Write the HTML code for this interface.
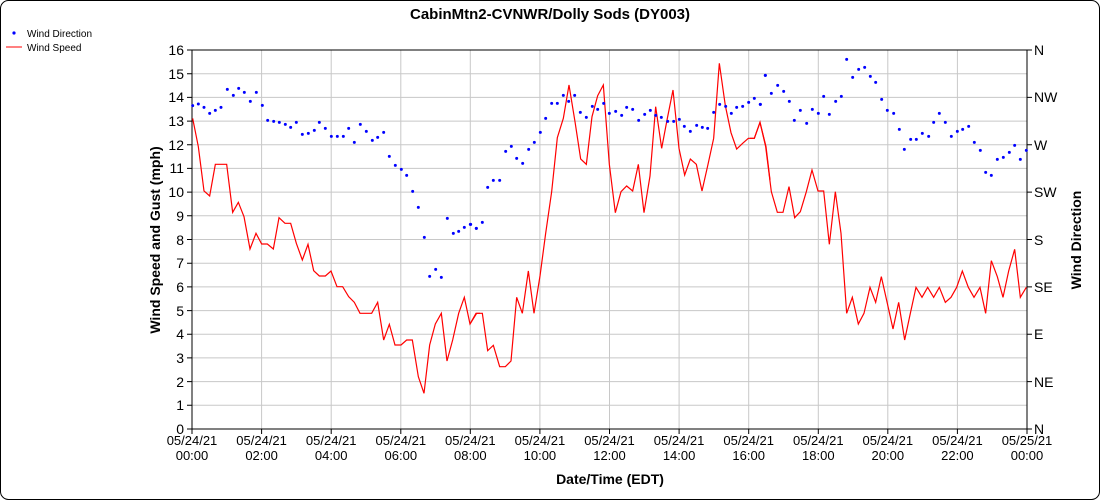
<!DOCTYPE html>
<html><head><meta charset="utf-8"><style>
html,body{margin:0;padding:0;background:#fff;}
svg{display:block;font-family:"Liberation Sans",sans-serif;}
</style></head><body>
<svg width="1100" height="500" viewBox="0 0 1100 500">
<rect x="0.5" y="0.5" width="1099" height="499" rx="8" fill="#fff" stroke="#000"/>
<text x="550" y="19" text-anchor="middle" font-size="15" font-weight="bold">CabinMtn2-CVNWR/Dolly Sods (DY003)</text>
<circle cx="14" cy="33" r="1.6" fill="#00f"/>
<text x="27" y="37" font-size="10">Wind Direction</text>
<line x1="6" y1="47" x2="22" y2="47" stroke="red"/>
<text x="27" y="51" font-size="10">Wind Speed</text>

<path fill="none" stroke="#c8c8c8" d="M192,405.3H1027M192,381.6H1027M192,357.9H1027M192,334.3H1027M192,310.6H1027M192,286.9H1027M192,263.2H1027M192,239.5H1027M192,215.8H1027M192,192.1H1027M192,168.4H1027M192,144.8H1027M192,121.1H1027M192,97.4H1027M192,73.7H1027
M261.6,50V429M331.2,50V429M400.8,50V429M470.3,50V429M539.9,50V429M609.5,50V429M679.1,50V429M748.7,50V429M818.3,50V429M887.8,50V429M957.4,50V429"/>
<rect x="192" y="50" width="835" height="379" fill="none" stroke="#000"/>
<path fill="none" stroke="#000" d="M187,429H192M187,405.3H192M187,381.6H192M187,357.9H192M187,334.3H192M187,310.6H192M187,286.9H192M187,263.2H192M187,239.5H192M187,215.8H192M187,192.1H192M187,168.4H192M187,144.8H192M187,121.1H192M187,97.4H192M187,73.7H192M187,50H192
M1027,429H1032M1027,381.6H1032M1027,334.3H1032M1027,286.9H1032M1027,239.5H1032M1027,192.1H1032M1027,144.8H1032M1027,97.4H1032M1027,50H1032
M192,429V434M261.6,429V434M331.2,429V434M400.8,429V434M470.3,429V434M539.9,429V434M609.5,429V434M679.1,429V434M748.7,429V434M818.3,429V434M887.8,429V434M957.4,429V434M1027,429V434"/>
<g font-size="14" text-anchor="end">
<text x="184" y="434">0</text><text x="184" y="410">1</text><text x="184" y="387">2</text><text x="184" y="363">3</text><text x="184" y="339">4</text><text x="184" y="316">5</text><text x="184" y="292">6</text><text x="184" y="268">7</text><text x="184" y="245">8</text><text x="184" y="221">9</text><text x="184" y="197">10</text><text x="184" y="173">11</text><text x="184" y="150">12</text><text x="184" y="126">13</text><text x="184" y="102">14</text><text x="184" y="79">15</text><text x="184" y="55">16</text>
</g>
<g font-size="14">
<text x="1034" y="434">N</text><text x="1034" y="387">NE</text><text x="1034" y="339">E</text><text x="1034" y="292">SE</text><text x="1034" y="245">S</text><text x="1034" y="197">SW</text><text x="1034" y="150">W</text><text x="1034" y="102">NW</text><text x="1034" y="55">N</text>
</g>
<g font-size="13" text-anchor="middle">
<text x="192" y="445">05/24/21</text><text x="192" y="460">00:00</text>
<text x="261.6" y="445">05/24/21</text><text x="261.6" y="460">02:00</text>
<text x="331.2" y="445">05/24/21</text><text x="331.2" y="460">04:00</text>
<text x="400.8" y="445">05/24/21</text><text x="400.8" y="460">06:00</text>
<text x="470.3" y="445">05/24/21</text><text x="470.3" y="460">08:00</text>
<text x="539.9" y="445">05/24/21</text><text x="539.9" y="460">10:00</text>
<text x="609.5" y="445">05/24/21</text><text x="609.5" y="460">12:00</text>
<text x="679.1" y="445">05/24/21</text><text x="679.1" y="460">14:00</text>
<text x="748.7" y="445">05/24/21</text><text x="748.7" y="460">16:00</text>
<text x="818.3" y="445">05/24/21</text><text x="818.3" y="460">18:00</text>
<text x="887.8" y="445">05/24/21</text><text x="887.8" y="460">20:00</text>
<text x="957.4" y="445">05/24/21</text><text x="957.4" y="460">22:00</text>
<text x="1027" y="445">05/25/21</text><text x="1027" y="460">00:00</text>
</g>

<g transform="translate(180,50) scale(0.33333)">
<polyline fill="none" stroke="red" stroke-width="1.2" vector-effect="non-scaling-stroke" points="38,205 55,290 72,423 89,438 106,343 140,343 158,487 175,457 192,500 210,597 228,550 245,582 262,582 280,597 297,503 315,520 332,520 349,580 367,630 384,583 401,662 418,678 436,678 453,663 471,710 488,710 506,740 523,757 540,790 575,790 593,757 611,870 628,823 645,885 663,885 680,870 697,870 715,980 732,1030 749,885 766,822 784,790 801,933 818,870 836,790 853,742 870,822 888,790 900,790"/>
<path fill="none" stroke="#00f" stroke-width="9" stroke-linecap="round" d="M38,167h0M55,162h0M72,172h0M89,190h0M106,181h0M123,172h0M142,118h0M160,136h0M176,115h0M193,127h0M211,154h0M229,127h0M247,166h0M263,211h0M281,214h0M298,217h0M316,223h0M332,232h0M349,217h0M367,253h0M385,250h0M403,241h0M418,217h0M436,235h0M454,259h0M472,259h0M490,259h0M506,235h0M523,277h0M541,223h0M559,244h0M577,271h0M593,262h0M611,247h0M628,319h0M646,346h0M664,358h0M680,376h0M698,424h0M715,472h0M733,562h0M749,679h0M767,658h0M784,682h0M802,505h0M820,550h0M836,544h0M853,532h0M871,523h0M889,535h0"/>
</g>
<g transform="translate(470,50) scale(0.33333)">
<polyline fill="none" stroke="red" stroke-width="1.2" vector-effect="non-scaling-stroke" points="0,822 20,790 37,790 53,902 70,886 89,950 106,950 123,933 140,742 157,790 175,663 192,790 210,678 227,550 245,425 262,263 280,205 297,105 315,215 332,327 349,343 366,200 383,137 400,105 418,343 436,488 453,425 470,408 488,423 505,343 522,488 540,378 557,170 575,295 592,205 609,120 627,295 644,375 661,327 679,343 696,423 714,343 731,265 748,40 766,167 783,248 800,297 818,280 835,265 853,265 870,217 888,290 900,390"/>
<path fill="none" stroke="#00f" stroke-width="9" stroke-linecap="round" d="M2,523h0M19,535h0M37,517h0M53,412h0M70,391h0M89,391h0M107,304h0M124,289h0M140,325h0M158,340h0M176,298h0M193,277h0M211,247h0M227,205h0M245,160h0M262,160h0M280,136h0M296,154h0M314,136h0M331,187h0M349,202h0M367,169h0M383,178h0M401,160h0M418,190h0M437,184h0M455,196h0M470,172h0M488,178h0M506,211h0M524,193h0M541,181h0M557,196h0M574,202h0M593,214h0M611,214h0M628,208h0M643,229h0M661,244h0M680,226h0M697,232h0M713,235h0M731,187h0M749,163h0M767,169h0M784,190h0M800,172h0M818,169h0M836,157h0M853,145h0M871,163h0M886,76h0"/>
</g>
<g transform="translate(750,50) scale(0.33333)">
<polyline fill="none" stroke="red" stroke-width="1.2" vector-effect="non-scaling-stroke" points="0,265 13,265 30,217 47,290 64,425 82,487 99,487 117,410 134,503 151,485 169,425 186,360 204,423 221,423 238,583 256,425 273,550 290,790 307,742 325,822 342,790 360,712 377,757 394,680 412,760 429,837 446,757 464,870 481,790 498,712 516,742 533,712 551,742 568,712 586,757 603,742 620,712 637,663 655,712 672,742 690,712 707,790 724,632 742,680 759,742 776,663 794,598 811,742 829,712"/>
<path fill="none" stroke="#00f" stroke-width="9" stroke-linecap="round" d="M31,163h0M46,76h0M64,130h0M83,106h0M101,124h0M118,154h0M133,211h0M151,181h0M170,220h0M187,178h0M205,190h0M221,139h0M238,193h0M257,154h0M274,139h0M290,28h0M308,82h0M326,58h0M344,52h0M361,79h0M377,97h0M395,148h0M412,181h0M431,190h0M448,238h0M463,298h0M482,268h0M499,268h0M517,250h0M536,259h0M551,217h0M568,190h0M586,217h0M604,259h0M622,244h0M638,238h0M656,229h0M673,277h0M691,301h0M707,367h0M724,376h0M742,328h0M760,322h0M778,307h0M794,286h0M811,328h0M829,301h0"/>
</g>

<text x="610" y="484" text-anchor="middle" font-size="14" font-weight="bold">Date/Time (EDT)</text>
<text transform="translate(160,240) rotate(-90)" text-anchor="middle" font-size="14" font-weight="bold">Wind Speed and Gust (mph)</text>
<text transform="translate(1081,240) rotate(-90)" text-anchor="middle" font-size="14" font-weight="bold">Wind Direction</text>
</svg>
</body></html>
